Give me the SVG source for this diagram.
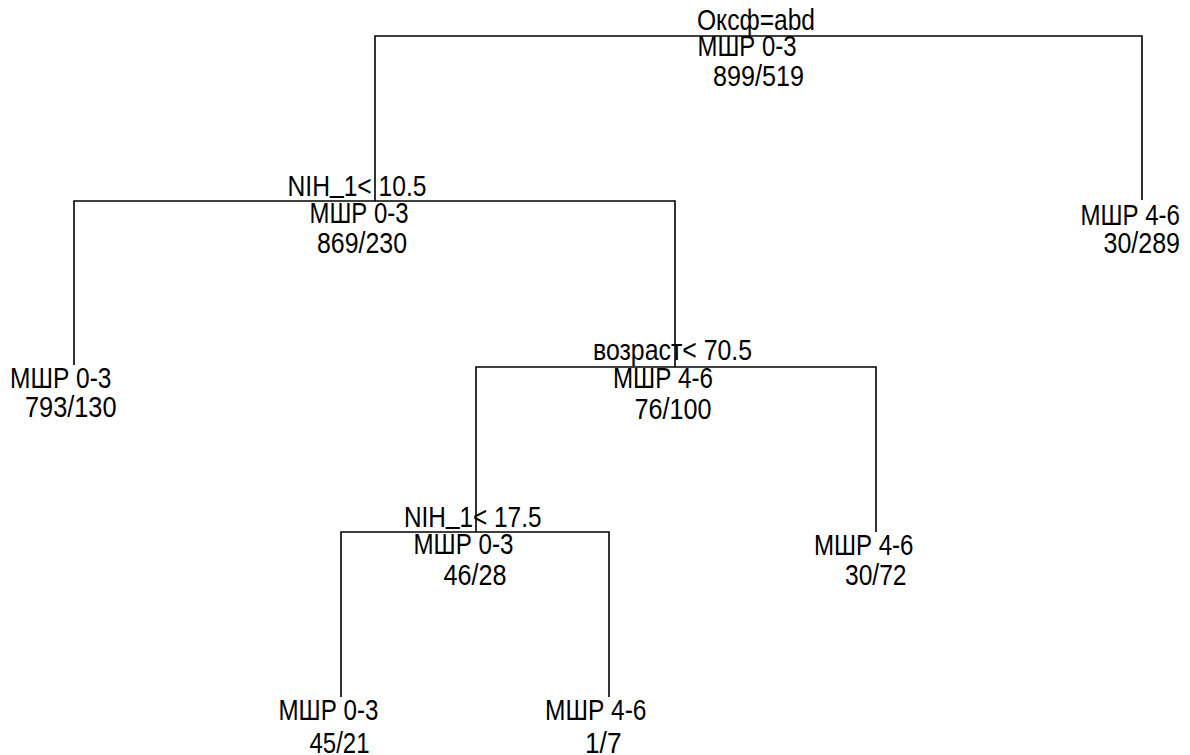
<svg xmlns="http://www.w3.org/2000/svg" width="1190" height="755" viewBox="0 0 1190 755">
<style>
text{font-family:"Liberation Sans",Arial,sans-serif;font-size:29px;fill:#000}
.e{fill:none;stroke:#000;stroke-width:1.6}
</style>
<rect width="1190" height="755" fill="#fff"/>
<g id="connectors">
<path class="e" d="M375,201V36H1142V200"/>
<path class="e" d="M74,365V201H675V367"/>
<path class="e" d="M476,532V367H876V532"/>
<path class="e" d="M341,697V532H609V697"/>
</g>
<g id="n1">
<text x="697" y="29.5" textLength="118" lengthAdjust="spacingAndGlyphs">Оксф=abd</text>
<text x="697.5" y="56" textLength="99" lengthAdjust="spacingAndGlyphs">МШР 0-3</text>
<text x="713" y="86" textLength="91" lengthAdjust="spacingAndGlyphs">899/519</text>
</g>
<g id="n2">
<text x="287.5" y="196" textLength="139" lengthAdjust="spacingAndGlyphs">NIH<tspan dy="-4">_</tspan><tspan dy="4">1&lt; 10.5</tspan></text>
<text x="309.5" y="223" textLength="99" lengthAdjust="spacingAndGlyphs">МШР 0-3</text>
<text x="317" y="252.5" textLength="90" lengthAdjust="spacingAndGlyphs">869/230</text>
</g>
<g id="n3">
<text x="10" y="388" textLength="101.5" lengthAdjust="spacingAndGlyphs">МШР 0-3</text>
<text x="25" y="417" textLength="91.5" lengthAdjust="spacingAndGlyphs">793/130</text>
</g>
<g id="n4">
<text x="593" y="360" textLength="159" lengthAdjust="spacingAndGlyphs">возраст&lt; 70.5</text>
<text x="613" y="387.5" textLength="100" lengthAdjust="spacingAndGlyphs">МШР 4-6</text>
<text x="634.5" y="419" textLength="77" lengthAdjust="spacingAndGlyphs">76/100</text>
</g>
<g id="n5">
<text x="404" y="527" textLength="137.5" lengthAdjust="spacingAndGlyphs">NIH<tspan dy="-4">_</tspan><tspan dy="4">1&lt; 17.5</tspan></text>
<text x="413.5" y="553.5" textLength="100" lengthAdjust="spacingAndGlyphs">МШР 0-3</text>
<text x="443.5" y="585" textLength="63" lengthAdjust="spacingAndGlyphs">46/28</text>
</g>
<g id="n6">
<text x="278.5" y="720" textLength="100" lengthAdjust="spacingAndGlyphs">МШР 0-3</text>
<text x="309.5" y="752.5" textLength="60" lengthAdjust="spacingAndGlyphs">45/21</text>
</g>
<g id="n7">
<text x="545" y="720" textLength="101.5" lengthAdjust="spacingAndGlyphs">МШР 4-6</text>
<text x="585" y="752.5" textLength="36.5" lengthAdjust="spacingAndGlyphs">1/7</text>
</g>
<g id="n8">
<text x="814" y="555" textLength="99.5" lengthAdjust="spacingAndGlyphs">МШР 4-6</text>
<text x="845" y="585" textLength="61.5" lengthAdjust="spacingAndGlyphs">30/72</text>
</g>
<g id="n9">
<text x="1080.5" y="225" textLength="99.5" lengthAdjust="spacingAndGlyphs">МШР 4-6</text>
<text x="1103.5" y="253" textLength="76.5" lengthAdjust="spacingAndGlyphs">30/289</text>
</g>
</svg>
